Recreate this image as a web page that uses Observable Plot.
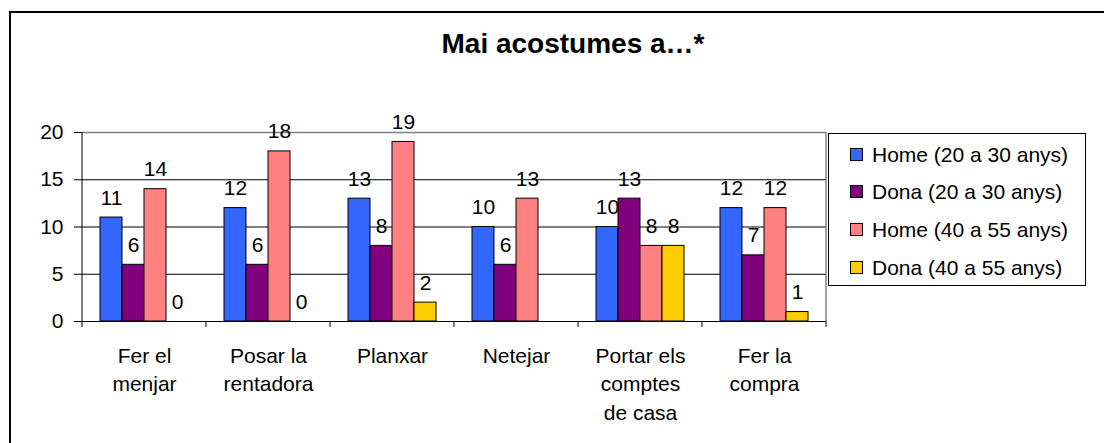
<!DOCTYPE html>
<html>
<head>
<meta charset="utf-8">
<script src="https://cdn.jsdelivr.net/npm/d3@7"></script>
<script src="https://cdn.jsdelivr.net/npm/@observablehq/plot@0.6"></script>
<style>
  html, body { margin: 0; padding: 0; background: #fff; }
  #wrap { position: relative; width: 1104px; height: 443px; overflow: hidden; font-family: "Liberation Sans", Arial, sans-serif; color: #000; }
  #frame { position: absolute; left: 9px; top: 11px; width: 1200px; height: 600px; border-left: 2px solid #000; border-top: 2px solid #000; }
  #title { position: absolute; left: 0; width: 1146px; top: 30px; text-align: center; font-weight: bold; font-size: 28px; line-height: 28px; white-space: nowrap; }
  #chart { position: absolute; left: 0; top: 0; }
  #legend { position: absolute; left: 828px; top: 133px; width: 256px; height: 151px; border: 1px solid #000; background: #fff; }
  .sw { position: absolute; width: 13px; height: 13px; border: 1px solid #000; box-sizing: border-box; }
  .lt { position: absolute; font-size: 21px; line-height: 21px; white-space: nowrap; }
</style>
</head>
<body>
<div id="wrap">
  <div id="frame"></div>
  <div id="chart"></div>
  <div id="title">Mai acostumes a…*</div>
  <div id="legend"></div>
</div>
<script>
const categories = ["Fer el\nmenjar", "Posar la\nrentadora", "Planxar", "Netejar", "Portar els\ncomptes\nde casa", "Fer la\ncompra"];
const series = ["Home (20 a 30 anys)", "Dona (20 a 30 anys)", "Home (40 a 55 anys)", "Dona (40 a 55 anys)"];
const home2030 = [11, 12, 13, 10, 10, 12];
const dona2030 = [6, 6, 8, 6, 13, 7];
const home4055 = [14, 18, 19, 13, 8, 12];
const dona4055 = [0, 0, 2, null, 8, 1];
const colors = ["#3366FF", "#800080", "#FF8080", "#FFCC00"];
const yTicks = [0, 5, 10, 15, 20];
const gridTicks = [5, 10, 15];

const seriesValues = [home2030, dona2030, home4055, dona4055];
const data = [];
categories.forEach((c, i) => {
  series.forEach((s, j) => {
    const v = seriesValues[j][i];
    if (v != null) data.push({category: c, series: s, value: v});
  });
});

const plot = Plot.plot({
  width: 1104,
  height: 443,
  marginLeft: 81,
  marginRight: 277,
  marginTop: 132,
  marginBottom: 122,
  style: {fontFamily: "'Liberation Sans', Arial, sans-serif", fontSize: "21px", color: "#000", background: "transparent", overflow: "visible"},
  fx: {domain: categories, padding: 0, axis: null, label: null},
  x: {domain: series, paddingInner: 0, paddingOuter: 0.72, axis: null},
  y: {domain: [0, 20], axis: null},
  color: {domain: series, range: colors},
  marks: [
    Plot.ruleY(gridTicks, {stroke: "#000", strokeWidth: 1}),
    Plot.ruleY([20], {stroke: "#808080", strokeWidth: 1.5}),
    Plot.barY(data, {fx: "category", x: "series", y: "value", fill: "series", stroke: "#000", strokeWidth: 1, inset: 0}),
    Plot.ruleY([0], {stroke: "#000", strokeWidth: 1}),
    Plot.text(data, {fx: "category", x: "series", y: "value", text: d => String(d.value), lineAnchor: "bottom", dy: -13, fontSize: 21, fill: "#000"}),
    Plot.axisY({ticks: yTicks, tickSize: 8, tickPadding: 11, label: null, fontSize: 21, stroke: "#000", fill: "#000"}),
    Plot.axisFx({anchor: "bottom", tickSize: 0, tickPadding: 21, label: null, fontSize: 21, lineHeight: 1.36, fill: "#000"})
  ]
});

// axis line, boundary ticks and right plot border, positioned with Plot's own scales
const fx = plot.scale("fx");
const ys = plot.scale("y");
const starts = categories.map(c => fx.apply(c));
const bounds = starts.concat([starts[starts.length - 1] + fx.bandwidth]);
const y0 = ys.apply(0), y20 = ys.apply(20);
const g = d3.select(plot).append("g");
g.selectAll("line.tk").data(bounds).join("line")
  .attr("x1", d => d).attr("x2", d => d)
  .attr("y1", y0).attr("y2", y0 + 6)
  .attr("stroke", "#000");
g.append("line").attr("x1", bounds[0]).attr("x2", bounds[0]).attr("y1", y20).attr("y2", y0).attr("stroke", "#000");
g.append("line").attr("x1", bounds[bounds.length - 1]).attr("x2", bounds[bounds.length - 1]).attr("y1", y20).attr("y2", y0).attr("stroke", "#808080").attr("stroke-width", 1.5);

document.getElementById("chart").appendChild(plot);

// legend
const legend = document.getElementById("legend");
series.forEach((s, i) => {
  const cy = 20 + i * 37.7;
  const sw = document.createElement("div");
  sw.className = "sw";
  sw.style.left = "21px";
  sw.style.top = (cy - 6.5) + "px";
  sw.style.background = colors[i];
  legend.appendChild(sw);
  const t = document.createElement("div");
  t.className = "lt";
  t.style.left = "43px";
  t.style.top = (cy - 10.5) + "px";
  t.textContent = s;
  legend.appendChild(t);
});
</script>
</body>
</html>
